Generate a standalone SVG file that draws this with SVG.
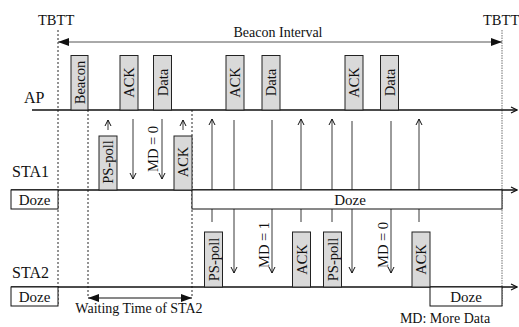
<svg xmlns="http://www.w3.org/2000/svg" width="519" height="327" viewBox="0 0 519 327">
<style>
text{font-family:"Liberation Serif","Times New Roman",serif;fill:#111;}
.lbl{font-size:16px;}
.t{font-size:14px;}
.tb{font-size:14.5px;}
.bt{font-size:14.5px;text-anchor:middle;}
.dz{font-size:15px;text-anchor:middle;}
.box{fill:#d9d9d9;stroke:#222;stroke-width:1;}
.doze{fill:#fff;stroke:#111;stroke-width:1;}
.axis{stroke:#111;stroke-width:1.3;fill:none;}
.v{stroke:#222;stroke-width:0.9;fill:none;}
.dash{stroke:#111;stroke-width:0.9;stroke-dasharray:2,2;fill:none;}
.gdash{stroke:#888;stroke-width:1.2;stroke-dasharray:1.5,1;fill:none;}
</style>
<defs>
<marker id="open" markerWidth="8" markerHeight="8" refX="7" refY="4" orient="auto" markerUnits="userSpaceOnUse">
<path d="M1,1 L7,4 L1,7" fill="none" stroke="#111" stroke-width="1"/>
</marker>
<marker id="axarr" markerWidth="8" markerHeight="8" refX="7" refY="4" orient="auto" markerUnits="userSpaceOnUse">
<path d="M1,1 L7,4 L1,7" fill="none" stroke="#111" stroke-width="1.2"/>
</marker>
<marker id="fill" markerWidth="12" markerHeight="10" refX="11" refY="5" orient="auto-start-reverse" markerUnits="userSpaceOnUse">
<path d="M0,1 L11,5 L0,9 Z" fill="#111"/>
</marker>
</defs>

<!-- TBTT markers -->
<g id="tbtt-left">
<text class="tb" x="38" y="25">TBTT</text>
<line class="dash" x1="58" y1="30" x2="58" y2="306"/>
</g>
<g id="tbtt-right">
<text class="tb" x="483" y="25">TBTT</text>
<line class="gdash" x1="502" y1="30" x2="502" y2="306"/>
</g>

<g id="beacon-interval">
<line x1="58" y1="42" x2="502" y2="42" stroke="#555" stroke-width="1" marker-start="url(#fill)" marker-end="url(#fill)"/>
<text class="t" x="278" y="37" text-anchor="middle">Beacon Interval</text>
</g>

<!-- dashed guide lines -->
<g id="guides">
<line class="dash" x1="88" y1="110" x2="88" y2="298"/>
<line class="dash" x1="192" y1="110" x2="192" y2="298"/>
</g>

<!-- connectors -->
<g id="connectors">
<!-- STA1 section -->
<line class="v" x1="108" y1="130" x2="108" y2="120" marker-end="url(#open)"/>
<line class="v" x1="133" y1="119" x2="133" y2="179" marker-end="url(#open)"/>
<line class="v" x1="162" y1="119" x2="162" y2="179" marker-end="url(#open)"/>
<line class="v" x1="183" y1="130" x2="183" y2="120" marker-end="url(#open)"/>
<!-- STA2 section -->
<line class="v" x1="212" y1="222" x2="212" y2="119" marker-end="url(#open)"/>
<line class="v" x1="234" y1="120" x2="234" y2="273" marker-end="url(#open)"/>
<line class="v" x1="272" y1="120" x2="272" y2="273" marker-end="url(#open)"/>
<line class="v" x1="301" y1="222" x2="301" y2="119" marker-end="url(#open)"/>
<line class="v" x1="332" y1="222" x2="332" y2="119" marker-end="url(#open)"/>
<line class="v" x1="352" y1="121" x2="352" y2="273" marker-end="url(#open)"/>
<line class="v" x1="391" y1="121" x2="391" y2="273" marker-end="url(#open)"/>
<line class="v" x1="419" y1="222" x2="419" y2="119" marker-end="url(#open)"/>
<!-- waiting time -->
<line x1="88" y1="298" x2="192" y2="298" stroke="#111" stroke-width="1" marker-start="url(#fill)" marker-end="url(#fill)"/>
</g>

<!-- AP -->
<g id="ap">
<text class="lbl" x="24" y="103">AP</text>
<line class="axis" x1="32" y1="110" x2="517" y2="110" marker-end="url(#axarr)"/>
</g>
<g id="ap-beacon"><rect class="box" x="71" y="55.5" width="17" height="54.5"/><text class="bt" transform="translate(79.5,82.5) rotate(-90)" dy="0.35em">Beacon</text></g>
<g id="ap-ack1"><rect class="box" x="120" y="55.5" width="18" height="54.5"/><text class="bt" transform="translate(129,82.5) rotate(-90)" dy="0.35em">ACK</text></g>
<g id="ap-data1"><rect class="box" x="153.5" y="55.5" width="18" height="54.5"/><text class="bt" transform="translate(162.5,82.5) rotate(-90)" dy="0.35em">Data</text></g>
<g id="ap-ack2"><rect class="box" x="226" y="55.5" width="18" height="54.5"/><text class="bt" transform="translate(235,82.5) rotate(-90)" dy="0.35em">ACK</text></g>
<g id="ap-data2"><rect class="box" x="262" y="55.5" width="18" height="54.5"/><text class="bt" transform="translate(271,82.5) rotate(-90)" dy="0.35em">Data</text></g>
<g id="ap-ack3"><rect class="box" x="345" y="55.5" width="18" height="54.5"/><text class="bt" transform="translate(354,82.5) rotate(-90)" dy="0.35em">ACK</text></g>
<g id="ap-data3"><rect class="box" x="380.5" y="55.5" width="18" height="54.5"/><text class="bt" transform="translate(389.5,82.5) rotate(-90)" dy="0.35em">Data</text></g>

<!-- STA1 -->
<g id="sta1">
<text class="lbl" x="12" y="177">STA1</text>
<line class="axis" x1="11" y1="190" x2="517" y2="190" marker-end="url(#axarr)"/>
</g>
<g id="sta1-doze1"><rect class="doze" x="11" y="190" width="47" height="19"/><text class="dz" x="34.5" y="204.5">Doze</text></g>
<g id="sta1-doze2"><rect class="doze" x="192" y="190" width="310" height="19"/><text class="dz" x="350" y="204.5">Doze</text></g>
<g id="sta1-pspoll"><rect class="box" x="99" y="136" width="18" height="54"/><text class="bt" transform="translate(108,162) rotate(-90)" dy="0.35em">PS-poll</text></g>
<g id="sta1-md0"><text class="bt" transform="translate(153,149) rotate(-90)" dy="0.35em">MD = 0</text></g>
<g id="sta1-ack"><rect class="box" x="174" y="136" width="18" height="54"/><text class="bt" transform="translate(183,162) rotate(-90)" dy="0.35em">ACK</text></g>

<!-- STA2 -->
<g id="sta2">
<text class="lbl" x="12" y="278">STA2</text>
<line class="axis" x1="11" y1="287" x2="517" y2="287" marker-end="url(#axarr)"/>
</g>
<g id="sta2-doze1"><rect class="doze" x="11" y="287" width="47" height="19"/><text class="dz" x="34.5" y="301.5">Doze</text></g>
<g id="sta2-doze2"><rect class="doze" x="430" y="287" width="72" height="19"/><text class="dz" x="466" y="301.5">Doze</text></g>
<g id="sta2-pspoll1"><rect class="box" x="204.5" y="232" width="18" height="55"/><text class="bt" transform="translate(213.5,259.5) rotate(-90)" dy="0.35em">PS-poll</text></g>
<g id="sta2-md1"><text class="bt" transform="translate(264,245) rotate(-90)" dy="0.35em">MD = 1</text></g>
<g id="sta2-ack1"><rect class="box" x="292.5" y="232" width="18" height="55"/><text class="bt" transform="translate(301.5,259.5) rotate(-90)" dy="0.35em">ACK</text></g>
<g id="sta2-pspoll2"><rect class="box" x="323.5" y="232" width="18" height="55"/><text class="bt" transform="translate(332.5,259.5) rotate(-90)" dy="0.35em">PS-poll</text></g>
<g id="sta2-md0"><text class="bt" transform="translate(383,245) rotate(-90)" dy="0.35em">MD = 0</text></g>
<g id="sta2-ack2"><rect class="box" x="412" y="232" width="18" height="55"/><text class="bt" transform="translate(421,259.5) rotate(-90)" dy="0.35em">ACK</text></g>

<g id="waiting-label"><text class="t" x="139" y="313" text-anchor="middle">Waiting Time of STA2</text></g>
<g id="legend"><text class="t" x="445" y="323" text-anchor="middle">MD: More Data</text></g>
</svg>
